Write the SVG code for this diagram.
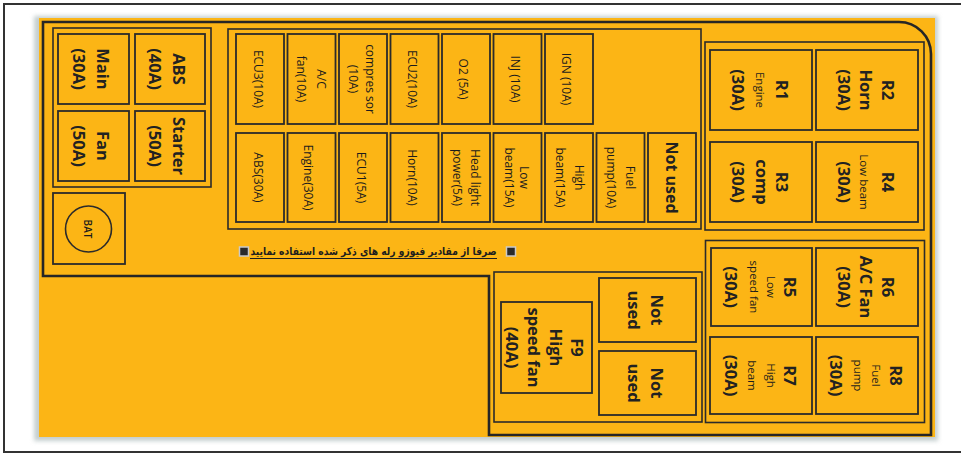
<svg xmlns="http://www.w3.org/2000/svg" width="961" height="454" viewBox="0 0 961 454">
<defs>
<style>
.frame{fill:none;stroke:#333;stroke-width:2}
.outline{fill:none;stroke:#262626;stroke-width:2.6}
.grp{fill:none;stroke:#2b2b2b;stroke-width:1.6}
.fuse{fill:none;stroke:#2b2b2b;stroke-width:1.8}
.b{font-family:"Open Sans","Noto Sans",sans-serif;font-weight:700;font-size:16.5px;fill:#222}
.m{font-family:"Open Sans","Noto Sans",sans-serif;font-weight:500;font-size:12px;fill:#1c1c1c}
.s{font-family:"Open Sans","Noto Sans",sans-serif;font-weight:500;font-size:11.5px;fill:#1c1c1c}
.nu{font-family:"Open Sans","Noto Sans",sans-serif;font-weight:700;font-size:16px;fill:#222}
.fa{font-family:"DejaVu Sans",sans-serif;font-weight:700;font-size:11px;fill:#1e1e1e}
.bul{fill:#2a2a2a;stroke:#c9c9c9;stroke-width:1.5}
</style>
<filter id="sh" x="-5%" y="-5%" width="110%" height="110%"><feGaussianBlur stdDeviation="2"/></filter>
</defs>
<rect x="0" y="0" width="961" height="454" fill="#fff"/>
<rect class="frame" x="4" y="4" width="970" height="448"/>
<rect x="34" y="16" width="904" height="425" fill="#c5cfcf" filter="url(#sh)"/>
<rect x="39" y="18" width="896" height="419" fill="#FCB515"/>
<path class="outline" d="M43,22 H899 A32,32 0 0 1 931,54 V435 H489 V276 H43 Z"/>

<g id="left-group">
<rect class="grp" x="53" y="28" width="158" height="159"/>
</g>
<g id="fuse-main">
<rect class="fuse" x="58" y="34" width="71" height="70"/>
<text class="b" text-anchor="middle" transform="translate(93.5,69) rotate(90)"><tspan x="0" y="-3.3">Main</tspan><tspan x="0" y="20.8">(30A)</tspan></text>
</g>
<g id="fuse-abs">
<rect class="fuse" x="135" y="34" width="70" height="70"/>
<text class="b" text-anchor="middle" transform="translate(170,69) rotate(90)"><tspan x="0" y="-3.3">ABS</tspan><tspan x="0" y="20.8">(40A)</tspan></text>
</g>
<g id="fuse-fan">
<rect class="fuse" x="58" y="111" width="71" height="70"/>
<text class="b" text-anchor="middle" transform="translate(93.5,146) rotate(90)"><tspan x="0" y="-3.3">Fan</tspan><tspan x="0" y="20.8">(50A)</tspan></text>
</g>
<g id="fuse-starter">
<rect class="fuse" x="135" y="111" width="70" height="70"/>
<text class="b" text-anchor="middle" transform="translate(170,146) rotate(90)"><tspan x="0" y="-3.3">Starter</tspan><tspan x="0" y="20.8">(50A)</tspan></text>
</g>
<g id="bat">
<rect class="fuse" x="53" y="193" width="72" height="71"/>
<circle cx="88.5" cy="229" r="23" fill="none" stroke="#2b2b2b" stroke-width="1.6"/>
<text class="m" style="font-size:10px;font-weight:600" text-anchor="middle" transform="translate(88.5,229) rotate(90)"><tspan x="0" y="4.5">BAT</tspan></text>
</g>

<g id="mid-group">
<rect class="grp" x="228" y="29" width="473" height="200"/>
</g>
<g id="f-ecu3">
<rect class="fuse" x="236" y="34" width="48" height="90"/>
<text class="m" text-anchor="middle" transform="translate(260,79) rotate(90)"><tspan x="0" y="6.5">ECU3(10A)</tspan></text>
</g>
<g id="f-acfan">
<rect class="fuse" x="287.5" y="34" width="48" height="90"/>
<text class="m" text-anchor="middle" transform="translate(311.5,79) rotate(90)"><tspan x="0" y="-5.2">A/C</tspan><tspan x="0" y="14.5">fan(10A)</tspan></text>
</g>
<g id="f-compressor">
<rect class="fuse" x="339" y="34" width="48" height="90"/>
<text class="m" text-anchor="middle" transform="translate(363,79) rotate(90)"><tspan x="0" y="-3">compres sor</tspan><tspan x="0" y="14.5">(10A)</tspan></text>
</g>
<g id="f-ecu2">
<rect class="fuse" x="390.5" y="34" width="48" height="90"/>
<text class="m" text-anchor="middle" transform="translate(414.5,79) rotate(90)"><tspan x="0" y="7">ECU2(10A)</tspan></text>
</g>
<g id="f-o2">
<rect class="fuse" x="442" y="34" width="48" height="90"/>
<text class="m" text-anchor="middle" transform="translate(466,79) rotate(90)"><tspan x="0" y="7">O2 (5A)</tspan></text>
</g>
<g id="f-inj">
<rect class="fuse" x="493.5" y="34" width="48" height="90"/>
<text class="m" text-anchor="middle" transform="translate(517.5,79) rotate(90)"><tspan x="0" y="7">INJ (10A)</tspan></text>
</g>
<g id="f-ign">
<rect class="fuse" x="545" y="34" width="48" height="90"/>
<text class="m" text-anchor="middle" transform="translate(569,79) rotate(90)"><tspan x="0" y="7">IGN (10A)</tspan></text>
</g>

<g id="f-abs30">
<rect class="fuse" x="236" y="133" width="48" height="89"/>
<text class="m" text-anchor="middle" transform="translate(260,177.5) rotate(90)"><tspan x="0" y="6">ABS(30A)</tspan></text>
</g>
<g id="f-engine">
<rect class="fuse" x="287.5" y="133" width="48" height="89"/>
<text class="m" text-anchor="middle" transform="translate(311.5,177.5) rotate(90)"><tspan x="0" y="7.5">Engine(30A)</tspan></text>
</g>
<g id="f-ecu1">
<rect class="fuse" x="339" y="133" width="48" height="89"/>
<text class="m" text-anchor="middle" transform="translate(363,177.5) rotate(90)"><tspan x="0" y="6.5">ECU1(5A)</tspan></text>
</g>
<g id="f-horn">
<rect class="fuse" x="390.5" y="133" width="48" height="89"/>
<text class="m" text-anchor="middle" transform="translate(414.5,177.5) rotate(90)"><tspan x="0" y="6.8">Horn(10A)</tspan></text>
</g>
<g id="f-headlight">
<rect class="fuse" x="442" y="133" width="48" height="89"/>
<text class="m" text-anchor="middle" transform="translate(466,177.5) rotate(90)"><tspan x="0" y="-4.5">Head light</tspan><tspan x="0" y="13.5">power(5A)</tspan></text>
</g>
<g id="f-lowbeam">
<rect class="fuse" x="493.5" y="133" width="48" height="89"/>
<text class="m" text-anchor="middle" transform="translate(517.5,177.5) rotate(90)"><tspan x="0" y="-2.5">Low</tspan><tspan x="0" y="12.5">beam(15A)</tspan></text>
</g>
<g id="f-highbeam">
<rect class="fuse" x="545" y="133" width="48" height="89"/>
<text class="m" text-anchor="middle" transform="translate(569,177.5) rotate(90)"><tspan x="0" y="-6">High</tspan><tspan x="0" y="13.5">beam(15A)</tspan></text>
</g>
<g id="f-fuelpump">
<rect class="fuse" x="596.5" y="133" width="48" height="89"/>
<text class="m" text-anchor="middle" transform="translate(620.5,177.5) rotate(90)"><tspan x="0" y="-5.5">Fuel</tspan><tspan x="0" y="14">pump(10A)</tspan></text>
</g>
<g id="f-notused1">
<rect class="fuse" x="648" y="133" width="48" height="89"/>
<text class="nu" text-anchor="middle" transform="translate(672,177.5) rotate(90)"><tspan x="0" y="6.2">Not used</tspan></text>
</g>

<g id="note">
<rect class="bul" x="239.5" y="247" width="9" height="9"/>
<rect class="bul" x="506.5" y="247" width="9" height="9"/>
<text class="fa" x="373.5" y="254.5" text-anchor="middle" textLength="246" lengthAdjust="spacingAndGlyphs" direction="rtl">صرفا از مقادیر فیوزو رله های ذکر شده استفاده نمایید</text>
<line x1="250" y1="258.5" x2="497" y2="258.5" stroke="#1e1e1e" stroke-width="1"/>
</g>

<g id="relay-group-top">
<rect class="grp" x="705" y="42" width="219" height="188"/>
</g>
<g id="r1">
<rect class="fuse" x="710" y="50" width="102" height="80"/>
<text text-anchor="middle" transform="translate(761,90) rotate(90)"><tspan class="b" x="0" y="-14.9">R1</tspan><tspan class="s" x="0" y="5.5">Engine</tspan><tspan class="b" x="0" y="29.1">(30A)</tspan></text>
</g>
<g id="r2">
<rect class="fuse" x="816" y="50" width="102" height="80"/>
<text class="b" text-anchor="middle" transform="translate(867,90) rotate(90)"><tspan x="0" y="-14.9">R2</tspan><tspan x="0" y="7.1">Horn</tspan><tspan x="0" y="29.1">(30A)</tspan></text>
</g>
<g id="r3">
<rect class="fuse" x="710" y="142" width="102" height="80"/>
<text class="b" text-anchor="middle" transform="translate(761,182) rotate(90)"><tspan x="0" y="-14.9">R3</tspan><tspan x="0" y="5">comp</tspan><tspan x="0" y="29.1">(30A)</tspan></text>
</g>
<g id="r4">
<rect class="fuse" x="816" y="142" width="102" height="80"/>
<text text-anchor="middle" transform="translate(867,182) rotate(90)"><tspan class="b" x="0" y="-14.9">R4</tspan><tspan class="s" x="0" y="7">Low beam</tspan><tspan class="b" x="0" y="29.1">(30A)</tspan></text>
</g>

<g id="relay-group-bottom">
<rect class="grp" x="705.5" y="240.5" width="219" height="182"/>
</g>
<g id="r5">
<rect class="fuse" x="711" y="248" width="101" height="78"/>
<text text-anchor="middle" transform="translate(761.5,287) rotate(90)"><tspan class="b" x="0" y="-22.4">R5</tspan><tspan class="s" x="0" y="-5.5">Low</tspan><tspan class="s" x="0" y="12">speed fan</tspan><tspan class="b" x="0" y="36.6">(30A)</tspan></text>
</g>
<g id="r6">
<rect class="fuse" x="816" y="248" width="102" height="78"/>
<text class="b" text-anchor="middle" transform="translate(867,287) rotate(90)"><tspan x="0" y="-14.9">R6</tspan><tspan x="0" y="7.1">A/C Fan</tspan><tspan x="0" y="29.1">(30A)</tspan></text>
</g>
<g id="r7">
<rect class="fuse" x="710" y="337" width="102" height="77"/>
<text text-anchor="middle" transform="translate(761,375.5) rotate(90)"><tspan class="b" x="0" y="-22.9">R7</tspan><tspan class="s" x="0" y="-6">High</tspan><tspan class="s" x="0" y="13">beam</tspan><tspan class="b" x="0" y="36.1">(30A)</tspan></text>
</g>
<g id="r8">
<rect class="fuse" x="816" y="337" width="102" height="77"/>
<text text-anchor="middle" transform="translate(867,375.5) rotate(90)"><tspan class="b" x="0" y="-22.9">R8</tspan><tspan class="s" x="0" y="-5">Fuel</tspan><tspan class="s" x="0" y="13">pump</tspan><tspan class="b" x="0" y="37">(30A)</tspan></text>
</g>

<g id="lower-mid-group">
<rect class="grp" x="494" y="272" width="208" height="150"/>
</g>
<g id="f9">
<rect class="fuse" x="501" y="302" width="91" height="91"/>
<text class="b" text-anchor="middle" transform="translate(546.5,347.5) rotate(90)"><tspan x="0" y="-24.9">F9</tspan><tspan x="0" y="-3.2">High</tspan><tspan x="0" y="18.5">speed fan</tspan><tspan x="0" y="40.1">(40A)</tspan></text>
</g>
<g id="f-notused2">
<rect class="fuse" x="599" y="278" width="97" height="64"/>
<text class="b" text-anchor="middle" transform="translate(647.5,310) rotate(90)"><tspan x="0" y="-3.9">Not</tspan><tspan x="0" y="19.5">used</tspan></text>
</g>
<g id="f-notused3">
<rect class="fuse" x="599" y="351" width="97" height="64"/>
<text class="b" text-anchor="middle" transform="translate(647.5,383) rotate(90)"><tspan x="0" y="-3.9">Not</tspan><tspan x="0" y="19.5">used</tspan></text>
</g>
<g id="connectors"/>
</svg>
